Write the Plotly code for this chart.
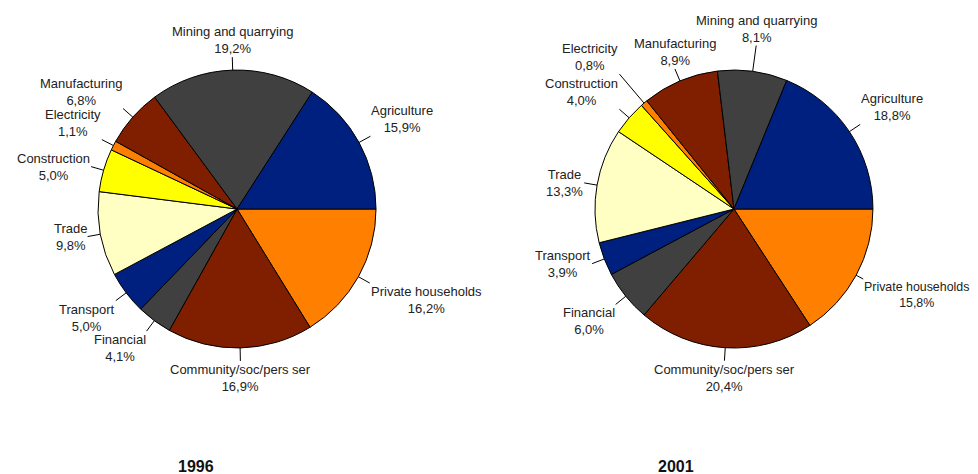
import math
import plotly.graph_objects as go

sectors = ["Agriculture", "Mining and quarrying", "Manufacturing", "Electricity",
           "Construction", "Trade", "Transport", "Financial",
           "Community/soc/pers ser", "Private households"]
share_1996 = [15.9, 19.2, 6.8, 1.1, 5.0, 9.8, 5.0, 4.1, 16.9, 16.2]
share_2001 = [18.8, 8.1, 8.9, 0.8, 4.0, 13.3, 3.9, 6.0, 20.4, 15.8]
years = ["1996", "2001"]
colors = ["#002080", "#404040", "#801f00", "#ff8000", "#ffff00", "#ffffc4",
          "#002080", "#404040", "#801f00", "#ff8000"]

W, H = 978, 474
FONT = "Liberation Sans, Arial, sans-serif"
domains = [([0.0921, 0.3763], [0.2827, 0.8691]), ([0.6002, 0.8844], [0.2827, 0.8691])]
title_pos = [(188, 458), (668, 458)]
# leader-line adjustments where labels had to be moved apart / kept on the page
overrides = {(1, "Mining and quarrying"): dict(lead=26),
             (1, "Electricity"): dict(lead=38),
             (1, "Manufacturing"): dict(xanchor="center"),
             (1, "Private households"): dict(lead=8, size=12.4)}

fig = go.Figure()
for k, (vals, (dx, dy)) in enumerate(zip([share_1996, share_2001], domains)):
    # pie drawn clockwise from 3 o'clock in reversed order == counterclockwise in data order
    fig.add_trace(go.Pie(
        labels=sectors[::-1], values=vals[::-1], sort=False, direction="clockwise",
        rotation=90, textinfo="none",
        marker=dict(colors=colors[::-1], line=dict(color="#000000", width=1)),
        domain=dict(x=dx, y=dy),
        hoverinfo="label+value", showlegend=False,
    ))
    cx = (dx[0] + dx[1]) / 2 * W
    cy = (1 - (dy[0] + dy[1]) / 2) * H
    r = min((dx[1] - dx[0]) * W, (dy[1] - dy[0]) * H) / 2
    total = sum(vals)
    cum = 0.0
    for name, v in zip(sectors, vals):
        mid = (cum + v / 2) / total * 2 * math.pi
        cum += v
        c, s = math.cos(mid), math.sin(mid)
        ov = overrides.get((k, name), {})
        lead = ov.get("lead", 13)
        px, py = cx + r * c, cy - r * s
        qx, qy = cx + (r + lead) * c, cy - (r + lead) * s
        fig.add_shape(type="line", xref="paper", yref="paper",
                      x0=px / W, y0=1 - py / H, x1=qx / W, y1=1 - qy / H,
                      line=dict(color="#000000", width=1))
        xa = "left" if c > 0.3 else ("right" if c < -0.3 else "center")
        ya = "bottom" if s > 0.4 else ("top" if s < -0.4 else "middle")
        xa = ov.get("xanchor", xa)
        fig.add_annotation(text=f"{name}<br>{v:.1f}%".replace(".", ","),
                           x=qx / W, y=1 - qy / H, xref="paper", yref="paper",
                           xanchor=xa, yanchor=ya, showarrow=False, borderpad=0,
                           font=dict(family=FONT, size=ov.get("size", 13), color="#222222"))

for yr, (tx, ty) in zip(years, title_pos):
    fig.add_annotation(text="<b>" + yr + "</b>", x=tx / W, y=1 - ty / H,
                       xref="paper", yref="paper", showarrow=False,
                       xanchor="center", yanchor="middle",
                       font=dict(family=FONT, size=16, color="#111111"))

fig.update_layout(width=W, height=H, margin=dict(l=0, r=0, t=0, b=0),
                  paper_bgcolor="white", plot_bgcolor="white")
fig.write_html("out.html")
